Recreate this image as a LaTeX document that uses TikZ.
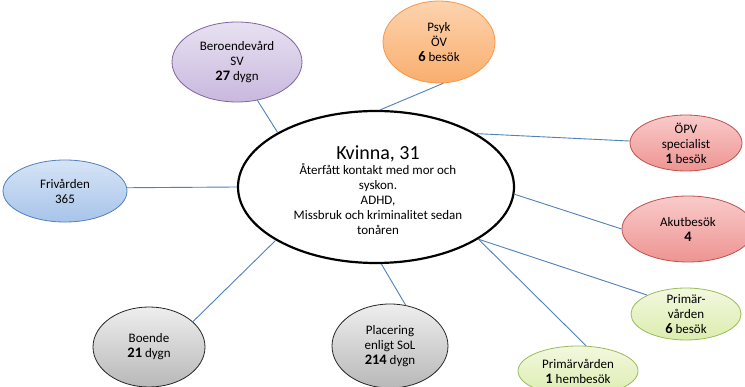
\documentclass[tikz,border=0pt]{standalone}
\usepackage{fontspec}
\setmainfont{Carlito}
\usetikzlibrary{shapes.geometric}

\definecolor{linkblue}{HTML}{4F81BD}
\definecolor{purpleA}{HTML}{E8E1F1}
\definecolor{purpleB}{HTML}{C8B8DE}
\definecolor{purpleL}{HTML}{8064A2}
\definecolor{orangeA}{HTML}{FDD3AE}
\definecolor{orangeB}{HTML}{F9AE6E}
\definecolor{orangeL}{HTML}{F79646}
\definecolor{redA}{HTML}{F9CBCA}
\definecolor{redB}{HTML}{EE9492}
\definecolor{redL}{HTML}{C0504D}
\definecolor{greenA}{HTML}{F2F8DF}
\definecolor{greenB}{HTML}{DCEDAE}
\definecolor{greenL}{HTML}{9BBB59}
\definecolor{blueA}{HTML}{D6E4F6}
\definecolor{blueB}{HTML}{A8C4EA}
\definecolor{blueL}{HTML}{4F81BD}
\definecolor{grayA}{HTML}{EEEEEE}
\definecolor{grayB}{HTML}{B8B8B8}
\definecolor{grayL}{HTML}{262626}

\newcommand\nb[1]{{\fontsize{14.5}{15}\selectfont\bfseries #1}}

\tikzset{
  bub/.style={ellipse, inner sep=0pt, line width=0.8pt},
  purplebub/.style={bub, draw=purpleL, top color=purpleA, bottom color=purpleB},
  orangebub/.style={bub, draw=orangeL, top color=orangeA, bottom color=orangeB},
  redbub/.style={bub, draw=redL, top color=redA, bottom color=redB},
  greenbub/.style={bub, draw=greenL, top color=greenA, bottom color=greenB},
  bluebub/.style={bub, draw=blueL, top color=blueA, bottom color=blueB},
  graybub/.style={bub, draw=grayL, top color=grayA, bottom color=grayB},
  txt/.style={align=center, inner sep=0pt, text=black,
              font=\fontsize{13}{15}\selectfont},
  link/.style={draw=linkblue, line width=0.9pt},
}

\begin{document}
\begin{tikzpicture}[x=1pt,y=-1pt]
  \clip (0,0) rectangle (745,387);
  \fill[white] (0,0) rectangle (745,387);

  % central person
  \node[ellipse, draw=black, line width=2.2pt, fill=white, inner sep=0pt,
        minimum width=276, minimum height=152] (main) at (376,187) {};
  \node[txt] (maintext) at (378,190)
    {{\fontsize{20}{22}\selectfont Kvinna, 31}\\Återfått kontakt med mor och\\syskon.\\ADHD,\\Missbruk och kriminalitet sedan\\tonåren};

  % care contacts
  \node[purplebub, minimum width=130, minimum height=80,
        label={[txt]center:Beroendevård\\SV\\\nb{27} dygn}] (ber) at (237,62) {};
  \node[orangebub, minimum width=112, minimum height=82,
        label={[txt]center:Psyk\\ÖV\\\nb{6} besök}] (psyk) at (439,42) {};
  \node[redbub, minimum width=112, minimum height=56,
        label={[txt]center:ÖPV\\specialist\\\nb{1} besök}] (opv) at (686,143) {};
  \node[redbub, minimum width=132, minimum height=66,
        label={[txt]center:Akutbesök\\\nb{4}}] (akut) at (688,229) {};
  \node[greenbub, minimum width=110, minimum height=52,
        label={[txt]center:Primär-\\vården\\\nb{6} besök}] (prim6) at (686,314) {};
  \node[greenbub, minimum width=120, minimum height=50,
        label={[txt]center:Primärvården\\\nb{1} hembesök}] (prim1) at (578,371) {};
  \node[graybub, minimum width=116, minimum height=84,
        label={[txt]center:Placering\\enligt SoL\\\nb{214} dygn}] (plac) at (390,346) {};
  \node[graybub, minimum width=112, minimum height=80,
        label={[txt]center:Boende\\\nb{21} dygn}] (boende) at (149,347) {};
  \node[bluebub, minimum width=124, minimum height=62,
        label={[txt]center:Frivården\\365}] (friv) at (65,191) {};

  % connectors to the central person
  \draw[link] (ber.-62) -- (main.151);
  \draw[link] (psyk.-84) -- (main.87);
  \draw[link] (opv.178) -- (main.28);
  \draw[link] (akut.180) -- (main.-3);
  \draw[link] (prim6.154) -- (main.-27.5);
  \draw[link] (prim1.72) -- (main.-27.5);
  \draw[link] (plac.69) -- (main.-86);
  \draw[link] (boende.30) -- (main.208);
  \draw[link] (friv.3) -- (main.180);
\end{tikzpicture}
\end{document}
